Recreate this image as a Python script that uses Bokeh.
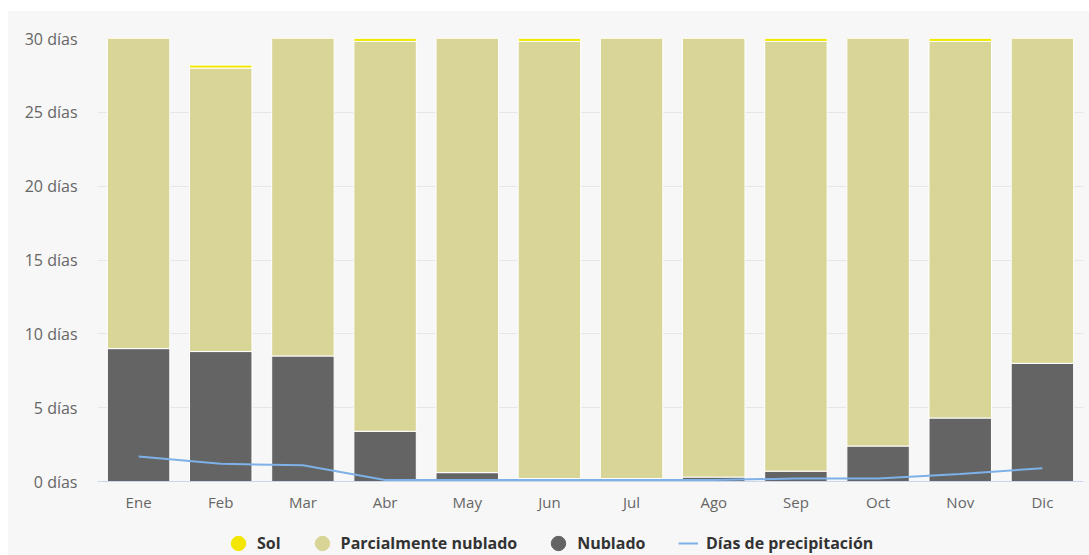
from bokeh.plotting import figure
from bokeh.models import ColumnDataSource, FactorRange, Legend, LegendItem, FixedTicker, CustomJSTickFormatter, Spacer
from bokeh.layouts import column, row
from bokeh.embed import file_html
from bokeh.resources import INLINE

months = ["Ene", "Feb", "Mar", "Abr", "May", "Jun", "Jul", "Ago", "Sep", "Oct", "Nov", "Dic"]
nublado = [9.0, 8.8, 8.5, 3.4, 0.6, 0.2, 0.2, 0.3, 0.7, 2.4, 4.3, 8.0]
parcial = [22.0, 19.2, 22.5, 26.4, 30.4, 29.6, 30.8, 30.7, 29.1, 28.6, 25.5, 23.0]
sol = [0.0, 0.2, 0.0, 0.2, 0.0, 0.2, 0.0, 0.0, 0.2, 0.0, 0.2, 0.0]
precip = [1.7, 1.2, 1.1, 0.1, 0.1, 0.1, 0.1, 0.1, 0.2, 0.2, 0.5, 0.9]
y_ticks = [0, 5, 10, 15, 20, 25, 30]
series_names = ["Sol", "Parcialmente nublado", "Nublado", "Días de precipitación"]

C_SOL = "#f3e600"
C_PARC = "#d8d596"
C_NUB = "#646464"
C_LINE = "#7db1e8"
BG = "#f7f7f7"
FONT = "Open Sans"

src = ColumnDataSource(dict(m=months, nublado=nublado, parcial=parcial, sol=sol, precip=precip))

p = figure(x_range=FactorRange(*months, range_padding=0), y_range=(0, 30),
           width=1081, height=508, output_backend="svg", toolbar_location=None,
           min_border_left=89, min_border_right=6, min_border_top=27, min_border_bottom=38)
p.background_fill_color = BG
p.border_fill_color = BG
p.outline_line_color = None

p.vbar_stack(["nublado", "parcial", "sol"], x="m", width=0.76, source=src,
             color=[C_NUB, C_PARC, C_SOL], line_color="white", line_width=1)
p.line(x="m", y="precip", source=src, line_color=C_LINE, line_width=2)

p.yaxis.ticker = FixedTicker(ticks=y_ticks)
p.yaxis.formatter = CustomJSTickFormatter(code="return tick + ' días';")
p.yaxis.axis_line_color = None
p.yaxis.major_tick_line_color = None
p.yaxis.minor_tick_line_color = None
p.yaxis.major_label_text_font = FONT
p.yaxis.major_label_text_font_size = "16px"
p.yaxis.major_label_text_color = "#666666"
p.yaxis.major_label_standoff = 14

p.xaxis.axis_line_color = "#ccd6eb"
p.xaxis.axis_line_width = 1
p.xaxis.major_tick_line_color = None
p.xaxis.minor_tick_line_color = None
p.xaxis.major_label_text_font = FONT
p.xaxis.major_label_text_font_size = "15px"
p.xaxis.major_label_text_color = "#666666"
p.xaxis.major_label_standoff = 4

p.xgrid.grid_line_color = None
p.ygrid.ticker = FixedTicker(ticks=y_ticks)
p.ygrid.grid_line_color = "#e6e6e6"

# legend strip (its frame is aligned with the main frame by the column layout)
lg = figure(x_range=(0, 1), y_range=(0, 1), width=1081, height=36,
            output_backend="svg", toolbar_location=None,
            x_axis_type=None, y_axis_type=None,
            min_border_left=0, min_border_right=0, min_border_top=0, min_border_bottom=0)
lg.background_fill_color = BG
lg.border_fill_color = BG
lg.outline_line_color = None
lg.grid.grid_line_color = None
r_sol = lg.scatter([-1], [-1], marker="circle", size=15, fill_color=C_SOL, line_color=C_SOL)
r_parc = lg.scatter([-1], [-1], marker="circle", size=15, fill_color=C_PARC, line_color=C_PARC)
r_nub = lg.scatter([-1], [-1], marker="circle", size=15, fill_color=C_NUB, line_color=C_NUB)
r_line = lg.line([-2, -1], [-1, -1], line_color=C_LINE, line_width=2)

common = dict(orientation="horizontal", background_fill_alpha=0, border_line_color=None,
              label_text_font=FONT, label_text_font_size="16px", label_text_font_style="bold",
              label_text_color="#333333", padding=0, margin=0)
legend1 = Legend(items=[LegendItem(label=n, renderers=[r]) for n, r in
                        zip(series_names[:3], [r_sol, r_parc, r_nub])],
                 location=(123, -6), glyph_width=36, glyph_height=36,
                 label_standoff=1, spacing=23, **common)
legend2 = Legend(items=[LegendItem(label=series_names[3], renderers=[r_line])],
                 location=(581, -6), glyph_width=20, glyph_height=36,
                 label_standoff=8, spacing=0, **common)
lg.add_layout(legend1, "center")
lg.add_layout(legend2, "center")

chart = column(p, lg, styles={"background-color": BG})
layout = row(Spacer(width=8), column(Spacer(height=11), chart))
open("out.html", "w").write(file_html(layout, INLINE))
